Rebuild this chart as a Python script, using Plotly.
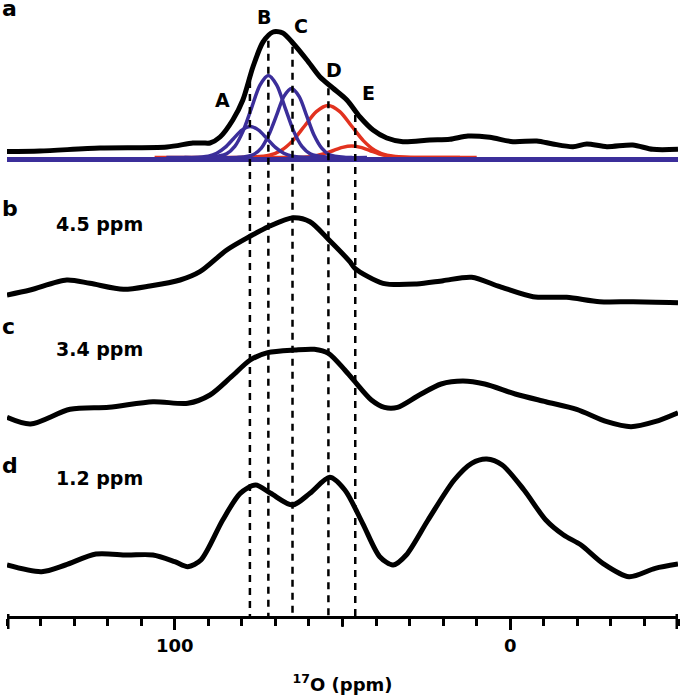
import numpy as np
import plotly.graph_objects as go

# ---------------- data (17O shift in ppm, intensity in arbitrary units) ----------------
# spectrum a (experimental, black)
A_PPM = [150, 140.2, 122.3, 102.3, 94.6, 91.6, 89.5, 86.5, 82.7, 79.7, 76.7, 73.7, 70.7, 67.8,
         64.8, 60.6, 56.7, 52.9, 48.7, 44.8, 40.9, 36.8, 32.0, 24.0, 18.0, 12.6, 6.1, -0.8,
         -7.9, -12.7, -18.7, -22.8, -28.8, -36.5, -42.5, -50]
A_INT = [-1.5, -1, 2, 3, 7, 7, 7, 13, 30, 50, 83, 108, 118, 117,
         107, 90, 73, 62, 50, 33, 20, 12, 8.3, 10, 10.7, 14, 12.7, 8.3,
         9, 6, 3.3, 6, 3.3, 5, 0.7, 0.7]

# fitted components of spectrum a
COMP_A_PPM = [102.5, 95, 90, 87.5, 85, 82.5, 80, 77.5, 75, 72.5, 70, 67.5, 65, 60, 52.5]
COMP_A_INT = [0, 0.1, 1.4, 4.2, 10.1, 18.8, 27.4, 31, 27.4, 18.8, 10.1, 4.2, 1.4, 0.1, 0]
COMP_B_PPM = [97.1, 89.6, 84.6, 82.1, 79.6, 77.1, 74.6, 72.1, 69.6, 67.1, 64.6, 62.1, 59.6, 54.6, 47.1]
COMP_B_INT = [0, 0.2, 3.6, 11.1, 26.6, 49.7, 72.4, 82, 72.4, 49.7, 26.6, 11.1, 3.6, 0.2, 0]
COMP_C_PPM = [87.7, 81.0, 76.5, 74.2, 72.0, 69.7, 67.5, 65.2, 62.9, 60.7, 58.5, 56.2, 54.0, 49.5, 42.7]
COMP_C_INT = [0, 0.15, 3.0, 9.3, 22.4, 41.8, 60.9, 69, 60.9, 41.8, 22.4, 9.3, 3.0, 0.15, 0]
COMP_D_PPM = [106, 90, 78.8, 71.8, 68.3, 64.8, 61.3, 57.8, 54.3, 50.8, 47.3, 43.8, 40.3, 36.8, 29.8, 20, 10]
COMP_D_INT = [0, 0, 0.1, 2.3, 7.0, 16.9, 31.5, 45.9, 52, 45.9, 31.5, 16.9, 7.0, 2.3, 0.1, 0, 0]
COMP_E_PPM = [80, 66.2, 60.8, 58.1, 55.4, 52.7, 50.0, 47.3, 44.6, 41.9, 39.2, 36.5, 33.8, 28.4, 15]
COMP_E_INT = [0, 0.03, 0.5, 1.6, 3.7, 7.0, 10.1, 11.5, 10.1, 7.0, 3.7, 1.6, 0.5, 0.03, 0]
BASE_PPM = [150, -50]
BASE_INT = [0, 0]

# spectrum b (4.5 ppm)
B_PPM = [150, 143.1, 132.2, 125.3, 115.3, 107.4, 98.4, 92.5, 84.5, 77.4, 72.1, 64.7, 59.7,
         54.0, 47.8, 46.3, 37.9, 27.9, 20.0, 11.5, 3.1, -6.8, -16.8, -26.7, -36.6, -50]
B_INT = [1, 6, 16, 12.7, 6.7, 10, 16, 24.3, 46, 60, 69.3, 78.3, 74.3,
         56, 34.3, 27.7, 12.7, 12, 15.3, 18.7, 9.3, -0.7, -1.3, -5.7, -5.7, -6.7]

# spectrum c (3.4 ppm)
C_PPM = [150, 143.0, 131.2, 119.6, 106.5, 96.1, 89.5, 83.1, 77.5, 72.3, 64.2, 58.4, 54.2,
         49.3, 46.3, 41.4, 37.5, 33.6, 27.1, 20.6, 14.1, 7.6, -1.5, -10.6, -19.8, -28.8,
         -36.0, -43.1, -50]
C_INT = [-0.3, -7, 7.7, 9.7, 15.3, 13.7, 22, 40.3, 57, 64.3, 67, 67.7, 63.7,
         47, 35.3, 17, 9.7, 9.7, 22, 33, 36, 33, 23, 15.3, 7.7, -4.7,
         -9.7, -4.7, 4.3]

# spectrum d (1.2 ppm)
D_PPM = [150, 139.7, 132.6, 123.5, 114.3, 106.5, 100.0, 96.1, 92.2, 85.7, 80.5, 75.9, 71.4,
         64.9, 59.7, 53.8, 49.3, 44.0, 38.9, 34.9, 31.0, 24.5, 16.7, 11.5, 7.0, 2.4, -4.1,
         -10.6, -15.9, -21.1, -27.6, -35.4, -43.2, -50]
D_INT = [0, -6.7, 0, 11, 10, 10, 3.3, -1.7, 5, 45, 71.7, 80, 71.7,
         60, 71.7, 87.7, 75, 41.7, 8.3, 0, 10, 45, 85, 101.7, 106, 100, 75,
         45, 30, 20, 1.7, -11.7, -3.3, 1]

# vertical stacking offsets
OFF_A, OFF_COMP, OFF_BASE, OFF_B, OFF_C, OFF_D = 466, 458.5, 456.5, 320, 199, 51

# peak positions A-E (ppm)
PEAK_PPM = [77.6, 72.1, 64.9, 54.2, 46.2]
PEAK_LABELS = ["A", "B", "C", "D", "E"]

TICK_VALS = [100, 0]
TICK_TEXT = ["100", "0"]
LONG_TICKS = [50]
END_TICKS = [150, -50]

BLACK = "#000000"
BLUE = "#3b2e9a"
RED = "#e2321f"
FONT = "DejaVu Sans, Liberation Sans, Arial, sans-serif"

fig = go.Figure()


def add(x, y, off, color, width):
    fig.add_trace(go.Scatter(
        x=x, y=[v + off for v in y], mode="lines",
        line=dict(color=color, width=width, shape="spline", smoothing=0.8),
        hoverinfo="skip", showlegend=False))


add(COMP_D_PPM, COMP_D_INT, OFF_COMP, RED, 3.5)
add(COMP_E_PPM, COMP_E_INT, OFF_COMP, RED, 3.5)
add(BASE_PPM, BASE_INT, OFF_BASE, BLUE, 5)
add(COMP_A_PPM, COMP_A_INT, OFF_COMP, BLUE, 3.5)
add(COMP_B_PPM, COMP_B_INT, OFF_COMP, BLUE, 3.5)
add(COMP_C_PPM, COMP_C_INT, OFF_COMP, BLUE, 3.5)
add(A_PPM, A_INT, OFF_A, BLACK, 5)
add(B_PPM, B_INT, OFF_B, BLACK, 5)
add(C_PPM, C_INT, OFF_C, BLACK, 5)
add(D_PPM, D_INT, OFF_D, BLACK, 5)

# dashed guide lines from spectrum a down to the axis
shapes = []
asc_x = A_PPM[::-1]
asc_y = A_INT[::-1]
for p in PEAK_PPM:
    top = float(np.interp(p, asc_x, asc_y)) + OFF_A
    shapes.append(dict(type="line", xref="x", yref="y", x0=p, x1=p, y0=top - 4, y1=0,
                       line=dict(color=BLACK, width=2.5, dash="7px,6px"), layer="above"))
# long tick at 50 and thick axis end caps
for p in LONG_TICKS:
    shapes.append(dict(type="line", xref="x", yref="paper", ysizemode="pixel", yanchor=0,
                       x0=p, x1=p, y0=0, y1=-11, line=dict(color=BLACK, width=2.5)))
for p in END_TICKS:
    shapes.append(dict(type="line", xref="x", yref="paper", ysizemode="pixel", yanchor=0,
                       x0=p, x1=p, y0=2, y1=-13, line=dict(color=BLACK, width=5)))

W, H = 685, 697
L, R, T, B = 7, 7, 0, 81
PW, PH = W - L - R, H - T - B


def px(xp, yp):
    return (xp - L) / PW, (H - B - yp) / PH


annotations = []
# panel letters
for txt, yp in [("a", 8), ("b", 208), ("c", 326), ("d", 465)]:
    xp_, yp_ = px(0, yp)
    annotations.append(dict(text=txt, x=xp_, y=yp_, xref="paper", yref="paper",
                            xanchor="left", yanchor="middle", showarrow=False,
                            font=dict(family=FONT, size=22, color=BLACK, weight="bold")))
# chemical-shift labels
for txt, yp in [("4.5 ppm", 224), ("3.4 ppm", 349), ("1.2 ppm", 478)]:
    xp_, yp_ = px(54, yp)
    annotations.append(dict(text=txt, x=xp_, y=yp_, xref="paper", yref="paper",
                            xanchor="left", yanchor="middle", showarrow=False,
                            font=dict(family=FONT, size=19, color=BLACK, weight="bold")))
# peak letters
for txt, (xp0, yp0) in zip(PEAK_LABELS, [(222, 100), (264, 17), (301, 26), (334, 70), (368, 93)]):
    xp_, yp_ = px(xp0, yp0)
    annotations.append(dict(text=txt, x=xp_, y=yp_, xref="paper", yref="paper",
                            xanchor="center", yanchor="middle", showarrow=False,
                            font=dict(family=FONT, size=19, color=BLACK, weight="bold")))

fig.update_layout(
    width=W, height=H,
    margin=dict(l=L, r=R, t=T, b=B, pad=0),
    paper_bgcolor="white", plot_bgcolor="white",
    shapes=shapes, annotations=annotations,
    xaxis=dict(
        range=[150, -50], showgrid=False, zeroline=False,
        showline=True, linecolor=BLACK, linewidth=3,
        tickmode="array", tickvals=TICK_VALS, ticktext=TICK_TEXT,
        ticks="outside", ticklen=11, tickwidth=2.5, tickcolor=BLACK,
        tickfont=dict(family=FONT, size=18, color=BLACK, weight="bold"),
        minor=dict(dtick=10, tick0=0, ticks="outside", ticklen=7, tickwidth=2.5, tickcolor=BLACK),
        title=dict(text="<sup>17</sup>O (ppm)", standoff=24,
                   font=dict(family=FONT, size=18, color=BLACK, weight="bold")),
    ),
    yaxis=dict(range=[0, PH], visible=False, showgrid=False, zeroline=False),
)

fig.write_html("out.html", config={"displayModeBar": False},
               post_script="document.body.style.margin='0';document.body.style.padding='0';")
